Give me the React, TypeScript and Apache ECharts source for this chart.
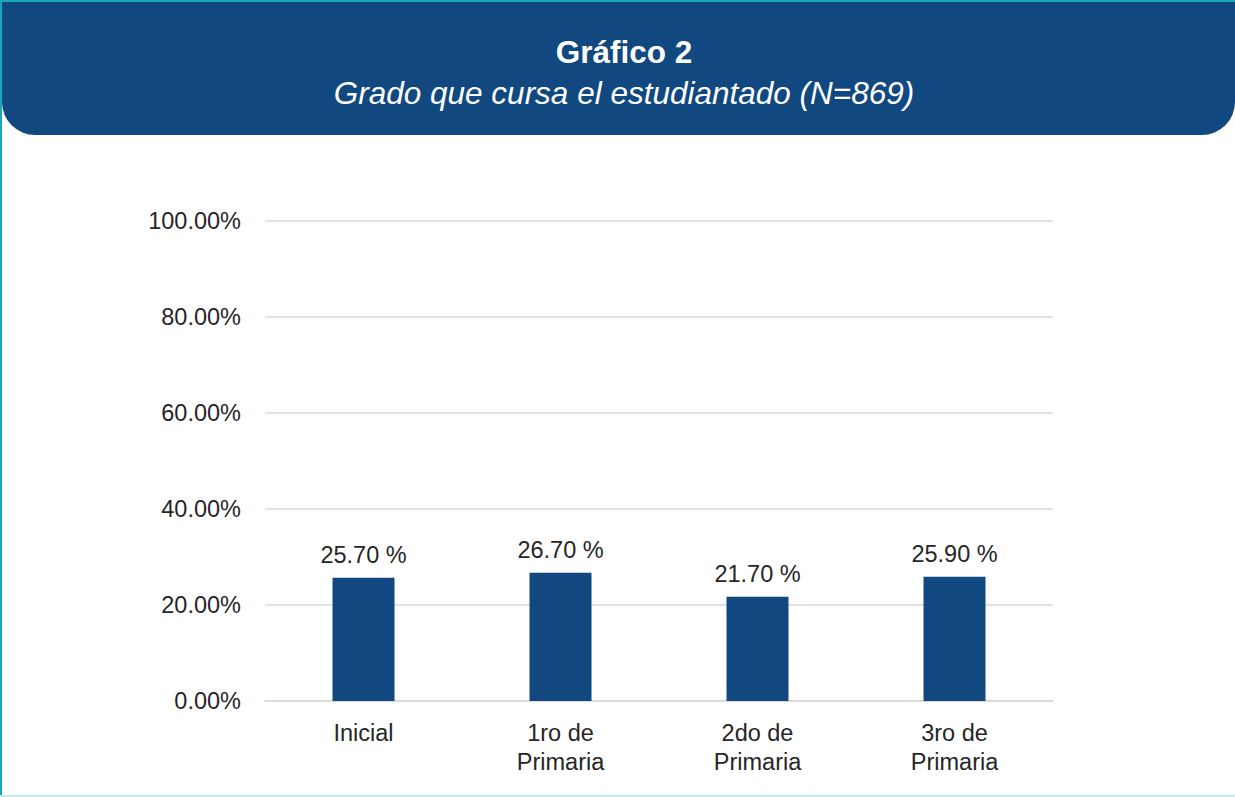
import React, { useEffect, useRef } from "react";
import * as echarts from "echarts";

const categories = ["Inicial", "1ro de\nPrimaria", "2do de\nPrimaria", "3ro de\nPrimaria"];
const values = [25.7, 26.7, 21.7, 25.9];
const titleText = "Gráfico 2";
const subtitleText = "Grado que cursa el estudiantado (N=869)";

export default function App() {
  const ref = useRef<HTMLDivElement>(null);
  useEffect(() => {
    const chart = echarts.init(ref.current!, null, { renderer: "svg" });
    const font = "Liberation Sans, Arial, sans-serif";
    chart.setOption({
      animation: false,
      backgroundColor: "#ffffff",
      graphic: [
        { type: "rect", left: 0, top: 0, shape: { x: 0, y: 0, width: 1235, height: 2 }, style: { fill: "#1aa8b8" }, z: 10 },
        { type: "rect", left: 0, top: 0, shape: { x: 0, y: 0, width: 2, height: 797 }, style: { fill: "#1aa8b8" }, z: 10 },
        { type: "rect", left: 0, top: 795, shape: { x: 0, y: 0, width: 1235, height: 2 }, style: { fill: "#c6ecf0" }, z: 10 },
        {
          type: "rect",
          shape: { x: 2, y: 2, width: 1233, height: 133, r: [0, 0, 33, 33] },
          style: { fill: "#10487f" },
          z: 5,
        },
        {
          type: "text",
          x: 624,
          y: 52,
          style: { text: titleText, fill: "#ffffff", font: `bold 31.5px ${font}`, align: "center", verticalAlign: "middle" },
          z: 6,
        },
        {
          type: "text",
          x: 624,
          y: 93,
          style: { text: subtitleText, fill: "#ffffff", font: `italic 31.5px ${font}`, align: "center", verticalAlign: "middle" },
          z: 6,
        },
      ],
      grid: { left: 265, right: 1235 - 1053, top: 221, bottom: 797 - 701, containLabel: false },
      xAxis: {
        type: "category",
        data: categories,
        axisLine: { show: true, lineStyle: { color: "#d9d9d9", width: 1.5 } },
        axisTick: { show: false },
        axisLabel: { color: "#262626", fontSize: 23.5, fontFamily: font, margin: 17, lineHeight: 29, interval: 0, verticalAlign: "top" },
      },
      yAxis: {
        type: "value",
        min: 0,
        max: 100,
        interval: 20,
        axisLine: { show: false },
        axisTick: { show: false },
        splitLine: { lineStyle: { color: "#d9d9d9", width: 1.5 } },
        axisLabel: {
          color: "#262626",
          fontSize: 23.5,
          fontFamily: font,
          margin: 24,
          formatter: (v: number) => v.toFixed(2) + "%",
        },
      },
      series: [
        {
          type: "bar",
          data: values,
          barWidth: 62,
          itemStyle: { color: "#10487f" },
          label: {
            show: true,
            position: "top",
            distance: 11,
            color: "#262626",
            fontSize: 23.5,
            fontFamily: font,
            formatter: (p: any) => p.value.toFixed(2) + " %",
          },
        },
      ],
    });
    return () => chart.dispose();
  }, []);
  return <div ref={ref} style={{ position: "fixed", left: 0, top: 0, width: 1235, height: 797 }} />;
}
